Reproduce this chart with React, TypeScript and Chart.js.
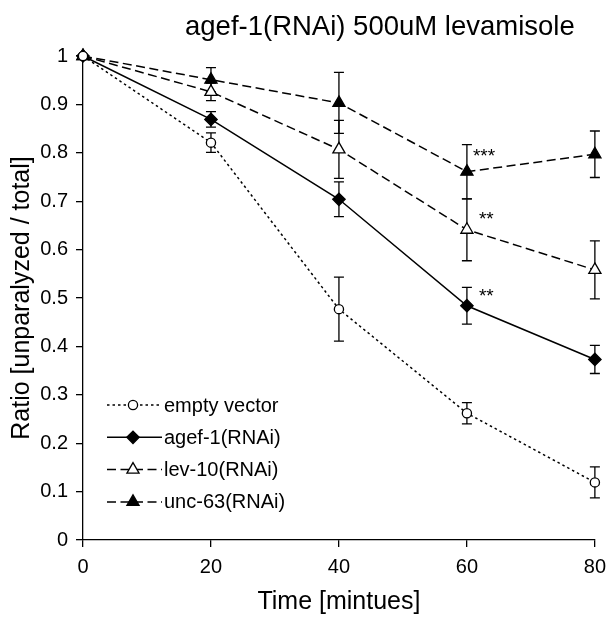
import React, { useEffect, useRef } from 'react';
import { Chart, registerables } from 'chart.js';
import { drawPoint } from 'chart.js/helpers';

Chart.register(...registerables);

// ---- data ----
const times = [0, 20, 40, 60, 80];
const seriesNames = ['empty vector', 'agef-1(RNAi)', 'lev-10(RNAi)', 'unc-63(RNAi)'];
const emptyVector = [1, 0.821, 0.477, 0.262, 0.119];
const emptyVectorErr = [0, 0.02, 0.066, 0.022, 0.032];
const agef1 = [1, 0.869, 0.704, 0.484, 0.373];
const agef1Err = [0, 0.016, 0.036, 0.038, 0.029];
const lev10 = [1, 0.926, 0.807, 0.641, 0.558];
const lev10Err = [0, 0.018, 0.06, 0.064, 0.06];
const unc63 = [1, 0.951, 0.903, 0.761, 0.797];
const unc63Err = [0, 0.025, 0.063, 0.056, 0.048];

const starLabels = ['***', '**', '**'];
const starTimes = [60, 60, 60];
const starValues = [0.8, 0.669, 0.511];

const titleText = 'agef-1(RNAi) 500uM levamisole';
const xTitle = 'Time [mintues]';
const yTitle = 'Ratio [unparalyzed / total]';

const FONT = "'Liberation Sans', Arimo, Arial, sans-serif";

const allValues = [emptyVector, agef1, lev10, unc63];
const allErrors = [emptyVectorErr, agef1Err, lev10Err, unc63Err];
const styles = [
  { pointStyle: 'circle', radius: 4.6, fill: '#ffffff', dash: [2.5, 3] },
  { pointStyle: 'rectRot', radius: 6.2, fill: '#000000', dash: [] },
  { pointStyle: 'triangle', radius: 7, fill: '#ffffff', dash: [9, 4.5] },
  { pointStyle: 'triangle', radius: 7, fill: '#000000', dash: [9, 4.5] },
];

const errorBarPlugin = {
  id: 'errorBars',
  beforeDatasetsDraw(chart: any) {
    const ctx = chart.ctx;
    const xs = chart.scales.x;
    const ys = chart.scales.y;
    ctx.save();
    ctx.strokeStyle = '#000';
    ctx.lineWidth = 1.3;
    ctx.setLineDash([]);
    chart.data.datasets.forEach((ds: any) => {
      const errs = ds.errors as number[];
      ds.data.forEach((p: any, i: number) => {
        const e = errs[i];
        if (!e) return;
        const x = xs.getPixelForValue(p.x);
        const y1 = ys.getPixelForValue(p.y + e);
        const y2 = ys.getPixelForValue(p.y - e);
        ctx.beginPath();
        ctx.moveTo(x, y1);
        ctx.lineTo(x, y2);
        ctx.moveTo(x - 5, y1);
        ctx.lineTo(x + 5, y1);
        ctx.moveTo(x - 5, y2);
        ctx.lineTo(x + 5, y2);
        ctx.stroke();
      });
    });
    ctx.restore();
  },
};

const annotationsPlugin = {
  id: 'annotations',
  afterDraw(chart: any) {
    const ctx = chart.ctx;
    const xs = chart.scales.x;
    const ys = chart.scales.y;
    const area = chart.chartArea;
    ctx.save();
    // title
    ctx.fillStyle = '#000';
    ctx.font = `27.5px ${FONT}`;
    ctx.textAlign = 'center';
    ctx.textBaseline = 'middle';
    ctx.fillText(titleText, area.left + (area.right - area.left) * 0.58, 27);

    // significance stars
    ctx.font = `19px ${FONT}`;
    ctx.textAlign = 'left';
    ctx.textBaseline = 'middle';
    starLabels.forEach((s, i) => {
      const x = xs.getPixelForValue(starTimes[i]) + (s.length === 3 ? 6 : 12);
      const y = ys.getPixelForValue(starValues[i]) + 4;
      ctx.fillText(s, x, y);
    });

    // legend
    const lx0 = area.left + 24;
    const lx1 = area.left + 79;
    const mx = area.left + 50;
    const tx = area.left + 81;
    const ly0 = area.bottom - 135;
    chart.data.datasets.forEach((ds: any, i: number) => {
      const y = ly0 + i * 32.3;
      ctx.strokeStyle = '#000';
      ctx.lineWidth = 1.5;
      ctx.setLineDash(ds.borderDash || []);
      ctx.beginPath();
      ctx.moveTo(lx0, y);
      ctx.lineTo(lx1, y);
      ctx.stroke();
      ctx.setLineDash([]);
      ctx.fillStyle = ds.pointBackgroundColor;
      ctx.strokeStyle = '#000';
      ctx.lineWidth = 1.3;
      drawPoint(ctx, { pointStyle: ds.pointStyle, rotation: 0, borderWidth: 1.3, radius: ds.pointRadius }, mx, y);
      ctx.fillStyle = '#000';
      ctx.font = `20px ${FONT}`;
      ctx.textAlign = 'left';
      ctx.textBaseline = 'middle';
      ctx.fillText(ds.label, tx, y + 1);
    });
    ctx.restore();
  },
};

export default function App() {
  const ref = useRef<HTMLCanvasElement>(null);
  useEffect(() => {
    if (!ref.current) return;
    const datasets = seriesNames.map((name, k) => ({
      label: name,
      data: times.map((t, i) => ({ x: t, y: allValues[k][i] })),
      errors: allErrors[k],
      borderColor: '#000',
      borderWidth: 1.5,
      borderDash: styles[k].dash,
      pointStyle: styles[k].pointStyle,
      pointRadius: styles[k].radius,
      pointBackgroundColor: styles[k].fill,
      pointBorderColor: '#000',
      pointBorderWidth: 1.3,
      fill: false,
      tension: 0,
      clip: false,
    }));
    const chart = new Chart(ref.current, {
      type: 'line',
      data: { datasets: datasets as any },
      plugins: [errorBarPlugin, annotationsPlugin],
      options: {
        animation: false,
        responsive: false,
        devicePixelRatio: 1,
        layout: { padding: { top: 56, right: 16, bottom: 0, left: 0 } },
        plugins: { legend: { display: false }, title: { display: false }, tooltip: { enabled: false } },
        font: { family: FONT } as any,
        scales: {
          x: {
            type: 'linear',
            min: 0,
            max: 80,
            afterFit: (s: any) => { s.height = 78; },
            ticks: { stepSize: 20, color: '#000', font: { size: 20, family: FONT }, padding: 8, maxRotation: 0 },
            grid: { drawOnChartArea: false, drawTicks: true, tickLength: 7, color: '#000', lineWidth: 1.3 },
            border: { display: true, color: '#000', width: 1.3 },
            title: { display: true, text: xTitle, color: '#000', font: { size: 25, family: FONT }, padding: { top: 0, bottom: 1 } },
          },
          y: {
            type: 'linear',
            min: 0,
            max: 1,
            afterFit: (s: any) => { s.width = 83; },
            ticks: {
              stepSize: 0.1,
              color: '#000',
              font: { size: 20, family: FONT },
              padding: 8,
              callback: (v: any) => String(Number(Number(v).toFixed(1))),
            },
            grid: { drawOnChartArea: false, drawTicks: true, tickLength: 7, color: '#000', lineWidth: 1.3 },
            border: { display: true, color: '#000', width: 1.3 },
            title: { display: true, text: yTitle, color: '#000', font: { size: 25, family: FONT }, padding: { top: 7, bottom: 0 } },
          },
        },
      } as any,
    });
    return () => chart.destroy();
  }, []);
  return (
    <div style={{ position: 'absolute', left: 0, top: 0, width: 614, height: 618, background: '#fff' }}>
      <canvas ref={ref} width={614} height={618} style={{ display: 'block' }} />
    </div>
  );
}
